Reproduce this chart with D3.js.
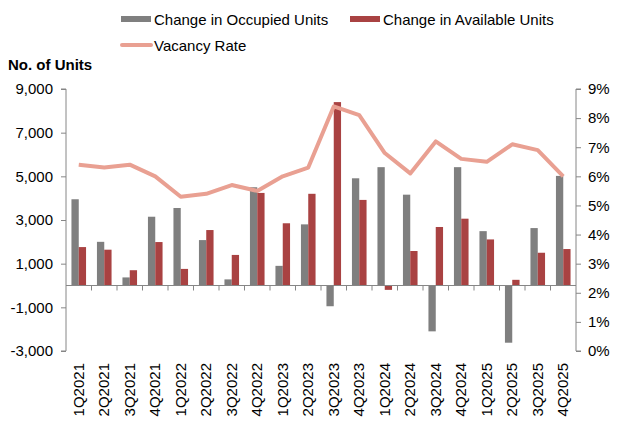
<!DOCTYPE html>
<html lang="en">
<head>
  <meta charset="UTF-8">
  <title>Occupied vs Available Units</title>
  <script src="https://cdn.jsdelivr.net/npm/d3@7"></script>
  <style>
    body { margin: 0; background: #fff; }
    svg text { font-family: "Liberation Sans", Arial, sans-serif; fill: #000; }
  </style>
</head>
<body>
  <div id="chart"></div>
  <script>
    const quarters = ["1Q2021","2Q2021","3Q2021","4Q2021","1Q2022","2Q2022","3Q2022","4Q2022",
                      "1Q2023","2Q2023","3Q2023","4Q2023","1Q2024","2Q2024","3Q2024","4Q2024",
                      "1Q2025","2Q2025","3Q2025","4Q2025"];
    const occupied = [3950, 2000, 370, 3150, 3550, 2080, 280, 4500, 900, 2800,
                      -950, 4910, 5420, 4160, -2100, 5420, 2490, -2620, 2630, 5020];
    const available = [1760, 1640, 700, 1990, 760, 2540, 1400, 4240, 2850, 4200,
                       8400, 3920, -200, 1580, 2680, 3060, 2110, 260, 1500, 1670];
    const vacancy = [6.4, 6.3, 6.4, 6.0, 5.3, 5.4, 5.7, 5.5, 6.0, 6.3,
                     8.4, 8.1, 6.8, 6.1, 7.2, 6.6, 6.5, 7.1, 6.9, 6.0];
    const leftTicks = [-3000, -1000, 1000, 3000, 5000, 7000, 9000];
    const rightTicks = [0, 1, 2, 3, 4, 5, 6, 7, 8, 9];

    const w = 639, h = 430;
    const plotL = 66, plotR = 576, plotT = 89, plotB = 351;
    const grey = "#7f7f7f", red = "#a94242", salmon = "#e9a092", axisCol = "#868686";
    const fs = "15px";

    const svg = d3.select("#chart").append("svg").attr("width", w).attr("height", h);

    const x = d3.scaleBand().domain(quarters).range([plotL, plotR]);
    const yL = d3.scaleLinear().domain([-3000, 9000]).range([plotB, plotT]);
    const yR = d3.scaleLinear().domain([0, 9]).range([plotB, plotT]);
    const bw = 7.3;
    const fmt = d => (d < 0 ? "-" : "") + d3.format(",")(Math.abs(d));

    // bars
    svg.selectAll(".occ").data(occupied).enter().append("rect")
      .attr("x", (d, i) => x(quarters[i]) + x.bandwidth() / 2 - bw)
      .attr("width", bw)
      .attr("y", d => yL(Math.max(0, d)))
      .attr("height", d => Math.abs(yL(d) - yL(0)))
      .attr("fill", grey);

    svg.selectAll(".avl").data(available).enter().append("rect")
      .attr("x", (d, i) => x(quarters[i]) + x.bandwidth() / 2)
      .attr("width", bw)
      .attr("y", d => yL(Math.max(0, d)))
      .attr("height", d => Math.abs(yL(d) - yL(0)))
      .attr("fill", red);

    // axes
    const gL = svg.append("g").attr("transform", `translate(${plotL},0)`)
      .call(d3.axisLeft(yL).tickValues(leftTicks).tickFormat(fmt).tickSize(5).tickPadding(8));
    const gR = svg.append("g").attr("transform", `translate(${plotR},0)`)
      .call(d3.axisRight(yR).tickValues(rightTicks).tickFormat(d => d + "%").tickSize(5).tickPadding(7));
    const gX = svg.append("g").attr("transform", `translate(0,${yL(0)})`)
      .call(d3.axisBottom(x).tickSize(0).tickFormat(""));
    gX.selectAll(".sep").data(quarters.slice(1)).enter().append("line")
      .attr("x1", d => x(d)).attr("x2", d => x(d))
      .attr("y1", 0).attr("y2", 5);

    [gL, gR, gX].forEach(g => {
      g.select(".domain").attr("stroke", axisCol);
      g.selectAll("line").attr("stroke", axisCol);
      g.selectAll("text").style("font-size", fs).attr("fill", "#000");
    });
    gL.select(".domain").attr("d", `M-5,${plotT}H0V${plotB}H-5`);
    gR.select(".domain").attr("d", `M5,${plotT}H0V${plotB}H5`);
    gX.select(".domain").attr("d", `M${plotL},0H${plotR}`);

    // category labels
    svg.append("g").selectAll("text").data(quarters).enter().append("text")
      .attr("transform", d => `translate(${x(d) + x.bandwidth() / 2 + 5},363) rotate(-90)`)
      .attr("text-anchor", "end")
      .style("font-size", fs)
      .text(d => d);

    // vacancy line
    const line = d3.line()
      .x((d, i) => x(quarters[i]) + x.bandwidth() / 2)
      .y(d => yR(d));
    svg.append("path").datum(vacancy)
      .attr("d", line)
      .attr("fill", "none")
      .attr("stroke", salmon)
      .attr("stroke-width", 4)
      .attr("stroke-linejoin", "round");

    // title
    svg.append("text").attr("x", 8).attr("y", 70)
      .style("font-size", fs).style("font-weight", "bold")
      .text("No. of Units");

    // legend
    const legend = [
      { label: "Change in Occupied Units", color: grey, type: "rect", x: 121, y: 19 },
      { label: "Change in Available Units", color: red, type: "rect", x: 350, y: 19 },
      { label: "Vacancy Rate", color: salmon, type: "line", x: 121, y: 45 }
    ];
    const lg = svg.append("g").selectAll("g").data(legend).enter().append("g")
      .attr("transform", d => `translate(${d.x},${d.y})`);
    lg.filter(d => d.type === "rect").append("rect")
      .attr("x", 0).attr("y", -3).attr("width", 30).attr("height", 6)
      .attr("fill", d => d.color);
    lg.filter(d => d.type === "line").append("line")
      .attr("x1", 1).attr("x2", 30).attr("y1", 0).attr("y2", 0)
      .attr("stroke", d => d.color).attr("stroke-width", 4).attr("stroke-linecap", "round");
    lg.append("text").attr("x", 33).attr("y", 5.5)
      .style("font-size", fs)
      .text(d => d.label);
  </script>
</body>
</html>
